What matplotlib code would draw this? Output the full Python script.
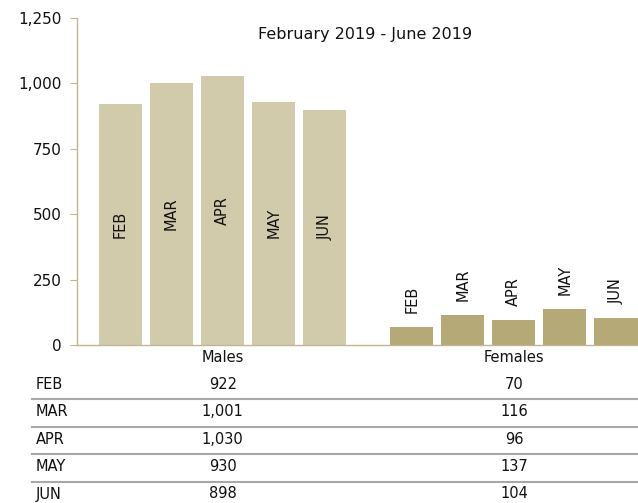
import matplotlib.pyplot as plt
import matplotlib.transforms as mtransforms
from matplotlib.lines import Line2D
import numpy as np

months = ["FEB", "MAR", "APR", "MAY", "JUN"]
groups = ["Males", "Females"]
males = [922, 1001, 1030, 930, 898]
females = [70, 116, 96, 137, 104]
title = "February 2019 - June 2019"

male_color = "#d1cbab"
female_color = "#b5a977"
spine_color = "#bfb78e"

plt.rcParams['font.family'] = ['DejaVu Sans']

fig = plt.figure(figsize=(6.38, 5.03), dpi=100)
ax = fig.add_axes([0.1207, 0.3141, 0.913, 0.6501])

pitch = 0.1753
width = 0.148
x = np.arange(len(groups))
for i, m in enumerate(months):
    off = (i - 2) * pitch
    vals = [males[i], females[i]]
    ax.bar(x + off, vals, width, color=[male_color, female_color])
    # males: label centred inside the bar
    ax.text(x[0] + off, males[i] / 2, m, rotation=90, ha="center", va="center",
            fontsize=10.5, color="#111111")
    # females: label above the bar
    ax.annotate(m, (x[1] + off, females[i]), xytext=(0, 10), textcoords="offset points",
                rotation=90, ha="center", va="bottom", fontsize=10.5, color="#111111")

ax.set_xlim(-0.5, 1.5)
ax.set_ylim(0, 1250)
ax.set_yticks([0, 250, 500, 750, 1000, 1250])
ax.set_yticklabels([f"{v:,}" for v in [0, 250, 500, 750, 1000, 1250]])
ax.set_xticks([])
for s in ["top", "right"]:
    ax.spines[s].set_visible(False)
for s in ["left", "bottom"]:
    ax.spines[s].set_color(spine_color)
    ax.spines[s].set_linewidth(1)
ax.tick_params(axis="y", length=5, color=spine_color, pad=6, labelsize=11, labelcolor="#111111")

fig.text(365 / 638, 1 - 34 / 503, title, ha="center", va="center", fontsize=11.5, color="#111111")

# data table under the chart
trans = mtransforms.blended_transform_factory(ax.transData, fig.transFigure)
header_y = 1 - 357 / 503
for j, g in enumerate(groups):
    fig.text(x[j], header_y, g, transform=trans, ha="center", va="center", fontsize=10.5, color="#111111")

row_y = [384.3, 412, 439.3, 466.7, 494]
line_y = [398.7, 426.7, 454.3, 481.7]
for i, m in enumerate(months):
    yy = 1 - row_y[i] / 503
    fig.text(36 / 638, yy, m, ha="left", va="center", fontsize=10.5, color="#111111")
    fig.text(x[0], yy, f"{males[i]:,}", transform=trans, ha="center", va="center",
             fontsize=10.5, color="#111111")
    fig.text(x[1], yy, f"{females[i]:,}", transform=trans, ha="center", va="center",
             fontsize=10.5, color="#111111")
for ly in line_y:
    yy = 1 - ly / 503
    fig.add_artist(Line2D([32 / 638, 1], [yy, yy], transform=fig.transFigure,
                          color="#a8a8a8", linewidth=1.5))

fig.savefig("out.png", dpi=100)
